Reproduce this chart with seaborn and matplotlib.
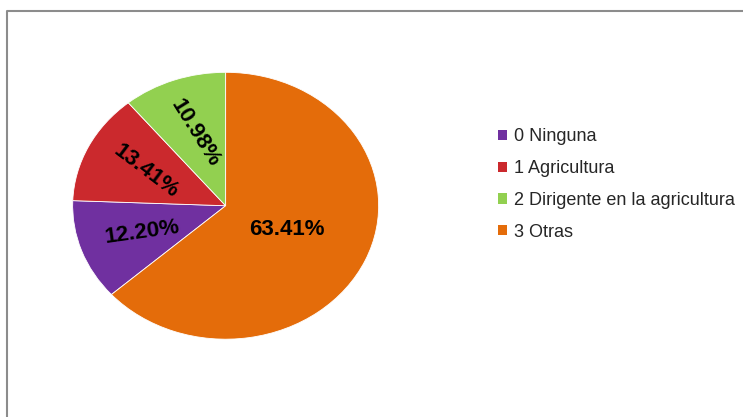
import matplotlib
matplotlib.use("Agg")
import matplotlib.pyplot as plt
import seaborn as sns
from matplotlib.patches import Patch
from matplotlib.lines import Line2D

# Respondent counts by occupation category
categories = ["0 Ninguna", "1 Agricultura", "2 Dirigente en la agricultura", "3 Otras"]
counts = [10, 11, 9, 52]
colors = ["#7030A0", "#CB292D", "#92D050", "#E46C0A"]
label_rotation = [8, -37, -58, 0]

sns.set_theme(style="white")
plt.rcParams["font.family"] = ["Liberation Sans", "DejaVu Sans"]

fig = plt.figure(figsize=(7.43, 4.17), dpi=100)
fig.patch.set_facecolor("white")

# Pie axes: wider than tall, so the pie is drawn slightly elliptical
ax = fig.add_axes([0.0978, 0.1866, 0.4118, 0.640])

total = sum(counts)
start = 90 + 360 * sum(counts[:-1]) / total
wedges, texts, autotexts = ax.pie(
    counts,
    colors=colors,
    startangle=start,
    counterclock=False,
    autopct="%.2f%%",
    pctdistance=0.58,
    radius=1.0,
    wedgeprops=dict(linewidth=0.6, edgecolor="white"),
    textprops=dict(fontsize=16, fontweight="bold", color="black"),
)
ax.set_aspect("auto")
ax.set_xlim(-1, 1)
ax.set_ylim(-1, 1)

for t, rot in zip(autotexts, label_rotation):
    t.set_rotation(rot)
    t.set_rotation_mode("anchor")
    t.set_ha("center")
    t.set_va("center")

# The large slice keeps its label closer to the centre
x, y = autotexts[-1].get_position()
autotexts[-1].set_position((x * 0.76, y * 0.76))

handles = [Patch(facecolor=c, edgecolor="none") for c in colors]
fig.legend(
    handles,
    categories,
    loc="upper left",
    bbox_to_anchor=(0.658, 0.714),
    frameon=False,
    fontsize=13,
    handlelength=0.5,
    handleheight=0.5,
    handletextpad=0.4,
    labelspacing=0.82,
    borderpad=0,
)

# Thin grey frame line along the top and left
x0 = 7.5 / 743
y0 = 1 - 11 / 417
fig.add_artist(Line2D([x0, x0, 1.0], [0.0, y0, y0], transform=fig.transFigure,
                      color="#8c8c8c", linewidth=1.5))

fig.savefig("out.png", dpi=100, facecolor="white")
